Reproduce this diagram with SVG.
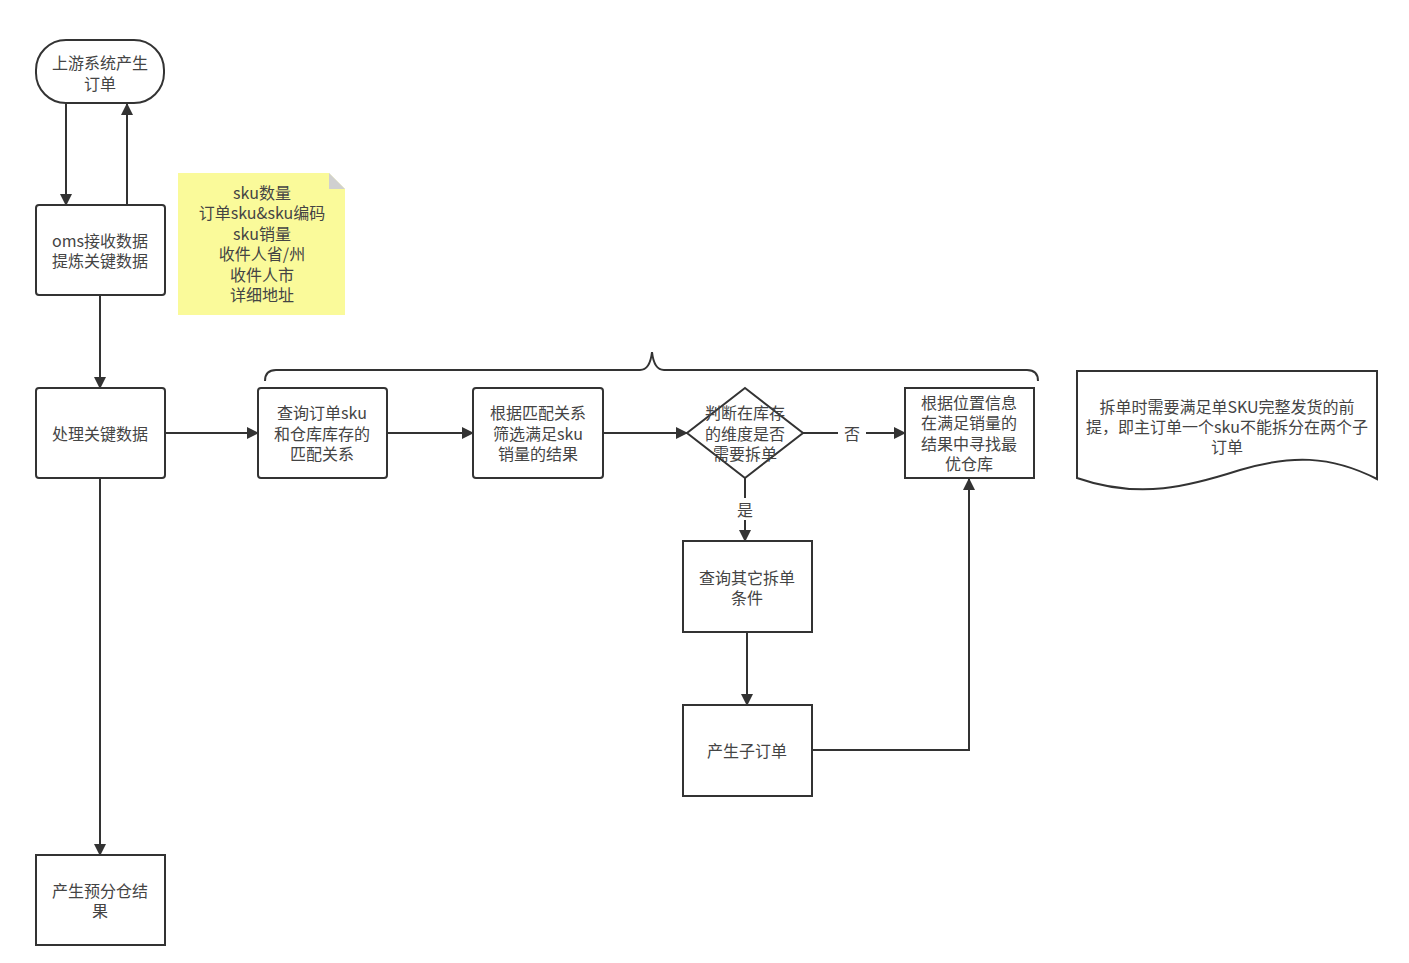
<svg xmlns="http://www.w3.org/2000/svg" width="1409" height="963" viewBox="0 0 1409 963">
<style>
.n{fill:#fff;stroke:#333;stroke-width:2}
.t{font-family:"Noto Sans CJK SC","Liberation Sans",sans-serif;font-size:16px;fill:#444;text-anchor:middle;dominant-baseline:central}
.c{fill:none;stroke:#333;stroke-width:2}
</style>
<defs>
<marker id="a" markerWidth="12" markerHeight="12" viewBox="0 0 12 12" refX="11" refY="6" orient="auto" markerUnits="userSpaceOnUse">
<path d="M0,0 L12,6 L0,12 Z" fill="#333"/>
</marker>
</defs>
<rect width="1409" height="963" fill="#fff"/>
<g id="connectors">
<path class="c" d="M66,103 V205" marker-end="url(#a)"/>
<path class="c" d="M127,205 V104" marker-end="url(#a)"/>
<path class="c" d="M100,295 V388" marker-end="url(#a)"/>
<path class="c" d="M100,478 V855" marker-end="url(#a)"/>
<path class="c" d="M165,433 H258" marker-end="url(#a)"/>
<path class="c" d="M387,433 H473" marker-end="url(#a)"/>
<path class="c" d="M603,433 H687" marker-end="url(#a)"/>
<path class="c" d="M803,433 H905" marker-end="url(#a)"/>
<path class="c" d="M745,478 V541" marker-end="url(#a)"/>
<path class="c" d="M747,632 V705" marker-end="url(#a)"/>
<path class="c" d="M812,750 H969 V479" marker-end="url(#a)"/>
<rect x="838" y="422" width="28" height="22" fill="#fff"/>
<text class="t" x="852" y="433">否</text>
<rect x="733" y="498" width="24" height="22" fill="#fff"/>
<text class="t" x="745" y="509">是</text>
</g>
<g id="brace">
<path class="c" d="M265,381 Q265,370 276,370 H640 Q650,370 652,352 Q654,370 664,370 H1027 Q1038,370 1038,381"/>
</g>
<g id="start">
<rect class="n" x="36" y="40" width="128" height="63" rx="30"/>
<text class="t" x="100" y="62">上游系统产生</text>
<text class="t" x="100" y="83">订单</text>
</g>
<g id="oms">
<rect class="n" x="36" y="205" width="129" height="90" rx="3"/>
<text class="t" x="100" y="240">oms接收数据</text>
<text class="t" x="100" y="260">提炼关键数据</text>
</g>
<g id="note">
<path d="M178,173 H329 L345,189 V315 H178 Z" fill="#fafa9a"/>
<path d="M329,173 L345,189 H329 Z" fill="#d0d0d0"/>
<text class="t" x="262" y="192">sku数量</text>
<text class="t" x="262" y="212">订单sku&amp;sku编码</text>
<text class="t" x="262" y="233">sku销量</text>
<text class="t" x="262" y="253">收件人省/州</text>
<text class="t" x="262" y="274">收件人市</text>
<text class="t" x="262" y="294">详细地址</text>
</g>
<g id="process">
<rect class="n" x="36" y="388" width="129" height="90" rx="3"/>
<text class="t" x="100" y="433">处理关键数据</text>
</g>
<g id="result">
<rect class="n" x="36" y="855" width="129" height="90"/>
<text class="t" x="100" y="890">产生预分仓结</text>
<text class="t" x="100" y="910">果</text>
</g>
<g id="query">
<rect class="n" x="258" y="388" width="129" height="90" rx="3"/>
<text class="t" x="322" y="412">查询订单sku</text>
<text class="t" x="322" y="433">和仓库库存的</text>
<text class="t" x="322" y="453">匹配关系</text>
</g>
<g id="filter">
<rect class="n" x="473" y="388" width="130" height="90" rx="3"/>
<text class="t" x="538" y="412">根据匹配关系</text>
<text class="t" x="538" y="433">筛选满足sku</text>
<text class="t" x="538" y="453">销量的结果</text>
</g>
<g id="decision">
<path class="n" d="M745,388 L803,433 L745,478 L687,433 Z"/>
<text class="t" x="745" y="412">判断在库存</text>
<text class="t" x="745" y="433">的维度是否</text>
<text class="t" x="745" y="453">需要拆单</text>
</g>
<g id="best">
<rect class="n" x="905" y="388" width="129" height="90" stroke-width="2.5"/>
<text class="t" x="969" y="402">根据位置信息</text>
<text class="t" x="969" y="422">在满足销量的</text>
<text class="t" x="969" y="443">结果中寻找最</text>
<text class="t" x="969" y="463">优仓库</text>
</g>
<g id="other">
<rect class="n" x="683" y="541" width="129" height="91"/>
<text class="t" x="747" y="577">查询其它拆单</text>
<text class="t" x="747" y="597">条件</text>
</g>
<g id="sub">
<rect class="n" x="683" y="705" width="129" height="91"/>
<text class="t" x="747" y="750">产生子订单</text>
</g>
<g id="doc">
<path class="n" d="M1077,371 H1377 V479 C1330,455 1290,455 1240,470 C1190,486 1140,500 1077,478 Z"/>
<text class="t" x="1227" y="406">拆单时需要满足单SKU完整发货的前</text>
<text class="t" x="1227" y="426">提，即主订单一个sku不能拆分在两个子</text>
<text class="t" x="1227" y="446">订单</text>
</g>
</svg>
